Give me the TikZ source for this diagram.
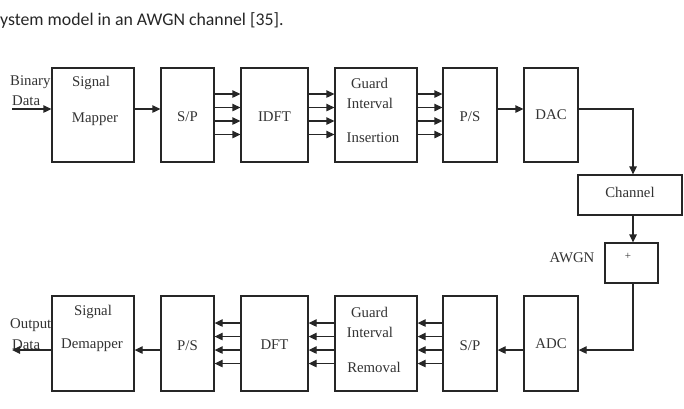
\documentclass[tikz,border=0pt]{standalone}
\usepackage{fontspec}
\setmainfont{Liberation Serif}
\newfontfamily\capfont{Carlito}
\usetikzlibrary{arrows.meta}
\definecolor{ln}{HTML}{262626}
\definecolor{tx}{HTML}{333333}
\tikzset{
  blk/.style={draw=ln, line width=1.3pt, fill=white, inner sep=0pt},
  lbl/.style={text=tx, font=\fontsize{14.8}{16}\selectfont, inner sep=0pt},
  arr/.style={draw=ln, line width=1.3pt, -{Triangle[length=8pt,width=7.5pt]}},
  wire/.style={draw=ln, line width=1.3pt}
}
\begin{document}
\begin{tikzpicture}[x=1pt,y=-1pt]
\useasboundingbox (0,0) rectangle (684,408);
% caption
\node[anchor=base west, inner sep=0pt, font=\capfont\fontsize{17.8}{20}\selectfont, text=black!85] (cap) at (0,25) {ystem model in an AWGN channel [35].};
% top row
\node[blk, minimum width=82pt, minimum height=94pt] (sm) at (93,115) {};
\node[blk, minimum width=53pt, minimum height=94pt] (sp1) at (187.5,115) {};
\node[blk, minimum width=67pt, minimum height=94pt] (idft) at (274.5,115) {};
\node[blk, minimum width=82pt, minimum height=94pt] (gi) at (376,115) {};
\node[blk, minimum width=54pt, minimum height=94pt] (ps1) at (470,115) {};
\node[blk, minimum width=54pt, minimum height=94pt] (dac) at (551,115) {};
% channel and awgn
\node[blk, minimum width=104pt, minimum height=40pt] (ch) at (630,195) {};
\node[blk, minimum width=53pt, minimum height=40pt] (aw) at (631.5,263) {};
% bottom row
\node[blk, minimum width=82pt, minimum height=95pt] (sdm) at (93,343.5) {};
\node[blk, minimum width=53pt, minimum height=95pt] (ps2) at (187.5,343.5) {};
\node[blk, minimum width=67pt, minimum height=95pt] (dft) at (274.5,343.5) {};
\node[blk, minimum width=82pt, minimum height=95pt] (gr) at (376,343.5) {};
\node[blk, minimum width=54pt, minimum height=95pt] (sp2) at (470,343.5) {};
\node[blk, minimum width=54pt, minimum height=95pt] (adc) at (551,343.5) {};
% labels top
\node[lbl, anchor=west] (bin) at (10,82) {Binary};
\node[lbl, anchor=west] (bdat) at (12,101) {Data};
\node[lbl] (sm1) at (91,83) {Signal};
\node[lbl] (sm2) at (95,119) {Mapper};
\node[lbl] (sp1t) at (187.5,117) {S/P};
\node[lbl] (idftt) at (274.5,117) {IDFT};
\node[lbl] (gi1) at (369.5,83) {Guard};
\node[lbl] (gi2) at (370,103) {Interval};
\node[lbl] (gi3) at (373,138) {Insertion};
\node[lbl] (ps1t) at (470,117) {P/S};
\node[lbl] (dact) at (551,115) {DAC};
\node[lbl] (cht) at (630,192) {Channel};
\node[lbl] (plus) at (628,256) {\fontsize{11}{12}\selectfont +};
\node[lbl] (awt) at (572,258) {AWGN};
% labels bottom
\node[lbl, anchor=west] (outl) at (10,325) {Output};
\node[lbl, anchor=west] (odat) at (12,345) {Data};
\node[lbl] (sd1) at (93,312) {Signal};
\node[lbl] (sd2) at (92,345) {Demapper};
\node[lbl] (ps2t) at (187.5,346) {P/S};
\node[lbl] (dftt) at (274.5,345) {DFT};
\node[lbl] (gr1) at (369.5,312) {Guard};
\node[lbl] (gr2) at (370,332) {Interval};
\node[lbl] (gr3) at (374,367) {Removal};
\node[lbl] (sp2t) at (470,346) {S/P};
\node[lbl] (adct) at (551,344) {ADC};
% coordinates for free ends
\coordinate (inp) at (12,109);
\coordinate (outp) at (12,350);
\coordinate (c1) at (633,109);
\coordinate (c2) at (633,350);
% top arrows
\draw[arr] (inp) -- (sm.west |- inp);
\draw[arr] (sm.east |- 0,109) -- (sp1.west |- 0,109);
\foreach \y in {94,107.5,121,134.5}{
  \draw[arr] (sp1.east |- 0,\y) -- (idft.west |- 0,\y);
  \draw[arr] (idft.east |- 0,\y) -- (gi.west |- 0,\y);
  \draw[arr] (gi.east |- 0,\y) -- (ps1.west |- 0,\y);
}
\draw[arr] (ps1.east |- 0,109) -- (dac.west |- 0,109);
\draw[arr] (dac.east |- c1) -- (c1) -- (c1 |- ch.north);
\draw[arr] (c1 |- ch.south) -- (c1 |- aw.north);
\draw[arr] (c1 |- aw.south) -- (c2) -- (adc.east |- c2);
% bottom arrows
\draw[arr] (adc.west |- 0,350) -- (sp2.east |- 0,350);
\foreach \y in {323,336.5,350,363.5}{
  \draw[arr] (sp2.west |- 0,\y) -- (gr.east |- 0,\y);
  \draw[arr] (gr.west |- 0,\y) -- (dft.east |- 0,\y);
  \draw[arr] (dft.west |- 0,\y) -- (ps2.east |- 0,\y);
}
\draw[arr] (ps2.west |- 0,350) -- (sdm.east |- 0,350);
\draw[arr] (sdm.west |- outp) -- (outp);
\end{tikzpicture}
\end{document}
